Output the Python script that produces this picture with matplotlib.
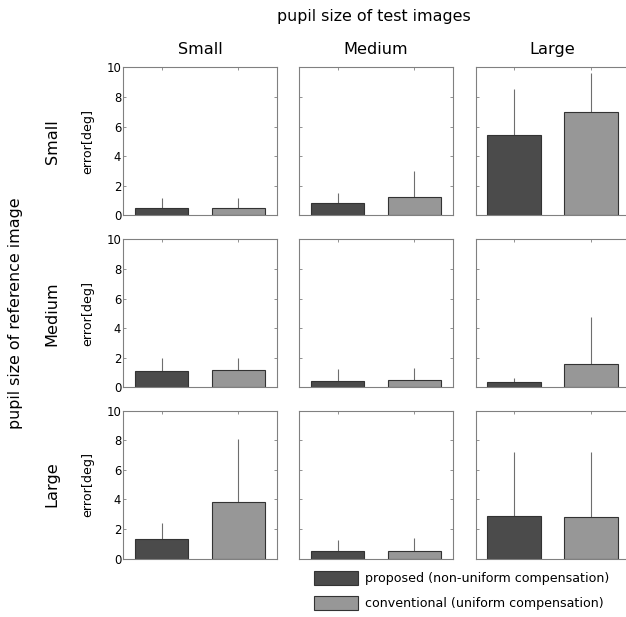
import matplotlib
matplotlib.use("Agg")
import matplotlib.pyplot as plt
import numpy as np

# ---- data ----
test_sizes = ["Small", "Medium", "Large"]        # columns: pupil size of test images
ref_sizes = ["Small", "Medium", "Large"]         # rows: pupil size of reference image
series_names = ["proposed (non-uniform compensation)",
                "conventional (uniform compensation)"]

# rows = reference size, cols = test size
proposed_mean = [[0.50, 0.85, 5.41],
                 [1.13, 0.45, 0.38],
                 [1.34, 0.49, 2.87]]
proposed_err = [[0.65, 0.66, 3.15],
                [0.85, 0.79, 0.27],
                [1.05, 0.75, 4.32]]
conventional_mean = [[0.50, 1.22, 6.98],
                     [1.17, 0.49, 1.57],
                     [3.80, 0.54, 2.83]]
conventional_err = [[0.65, 1.75, 2.63],
                    [0.83, 0.79, 3.18],
                    [4.30, 0.83, 4.36]]
yticks = [0, 2, 4, 6, 8, 10]

# ---- style ----
plt.rcParams['font.family'] = ['DejaVu Sans']
W, H = 626, 617
DPI = 100
fig = plt.figure(figsize=(W / DPI, H / DPI), dpi=DPI)

dark = '#4b4b4b'
light = '#979797'
edge = '#333333'
spine_c = '#808080'
err_c = '#6e6e6e'

col_left = [123.3, 299.3, 475.7]
col_w = 153.4
row_top = [67.3, 239.3, 410.5]
row_h = 148.0

x = np.array([1, 2])
bars = None
for r in range(3):
    for c in range(3):
        ax = fig.add_axes([col_left[c] / W, 1 - (row_top[r] + row_h) / H,
                           col_w / W, row_h / H])
        means = [proposed_mean[r][c], conventional_mean[r][c]]
        errs = [proposed_err[r][c], conventional_err[r][c]]
        b = ax.bar(x, means, width=0.70, color=[dark, light],
                   edgecolor=edge, linewidth=0.8, zorder=2)
        ax.errorbar(x, means, yerr=[np.zeros(2), errs], fmt='none',
                    ecolor=err_c, elinewidth=0.8, capsize=0, zorder=1)
        if bars is None:
            bars = b
        ax.set_xlim(0.5, 2.5)
        ax.set_ylim(0, 10)
        ax.set_yticks(yticks)
        ax.set_xticks(x)
        ax.tick_params(axis='both', direction='in', length=2, width=0.6,
                       color=spine_c, labelsize=8.4, pad=1.5,
                       top=True, right=True, labelbottom=False)
        for s in ax.spines.values():
            s.set_color(spine_c)
            s.set_linewidth(0.8)
        if c == 0:
            ax.set_ylabel("error[deg]", fontsize=9.1, va='center')
            ax.yaxis.set_label_coords(-0.23, 0.5)
        else:
            ax.tick_params(labelleft=False)
        if r == 0:
            ax.text(0.5, 1 + 18.3 / row_h, test_sizes[c], transform=ax.transAxes,
                    ha='center', va='center', fontsize=11.6)
        if c == 0:
            fig.text(52 / W, 1 - (row_top[r] + row_h / 2) / H, ref_sizes[r],
                     rotation=90, ha='center', va='center', fontsize=11.6)

fig.text(373.5 / W, 1 - 17 / H, "pupil size of test images",
         ha='center', va='center', fontsize=11.4)
fig.text(16 / W, 1 - 313 / H, "pupil size of reference image",
         rotation=90, ha='center', va='center', fontsize=11.4)

fs_leg = 9.1
fig.legend([bars[0], bars[1]], series_names, loc='upper left',
           bbox_to_anchor=(314 / W, 1 - 571 / H), frameon=False,
           fontsize=fs_leg, borderpad=0, borderaxespad=0,
           handlelength=3.5, handleheight=1.35, handletextpad=0.5,
           labelspacing=0.85)

fig.savefig("out.png", dpi=DPI)
